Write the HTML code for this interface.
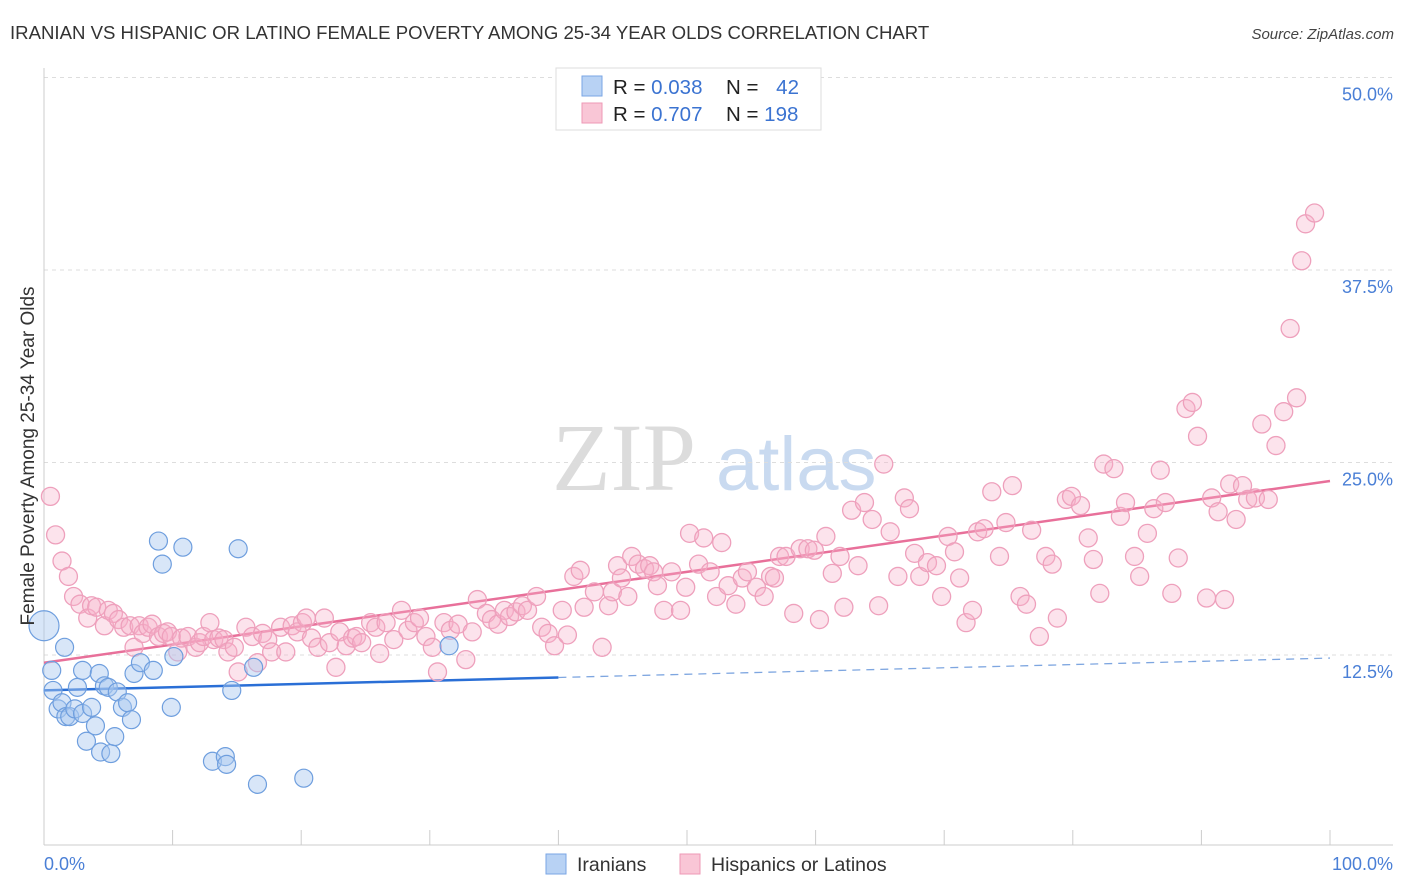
<!DOCTYPE html>
<html><head><meta charset="utf-8">
<style>
body{margin:0;background:#fff;font-family:"Liberation Sans",sans-serif;}
svg{display:block}
</style></head>
<body>
<svg id="chart" width="1406" height="892" viewBox="0 0 1406 892" xmlns="http://www.w3.org/2000/svg">
<text x="10" y="39" font-size="18.6" fill="#333">IRANIAN VS HISPANIC OR LATINO FEMALE POVERTY AMONG 25-34 YEAR OLDS CORRELATION CHART</text>
<text x="1394" y="39" font-size="15" fill="#444" text-anchor="end" font-style="italic">Source: ZipAtlas.com</text>
<g>
<text x="552" y="490" font-family="Liberation Serif,serif" font-size="96" fill="#dcdcdc">ZIP</text>
<text x="716" y="490" font-size="76" fill="#c9daf0">atlas</text>
</g>
<g id="grid"></g>
<g id="axes"></g>
<g id="trend"></g>
<g id="pts"></g>
<text transform="translate(34,456) rotate(-90)" font-size="19" fill="#333" text-anchor="middle">Female Poverty Among 25-34 Year Olds</text>
<text x="44" y="870" font-size="18" fill="#4a7fd6">0.0%</text>
<text x="1393" y="870" font-size="18" fill="#4a7fd6" text-anchor="end">100.0%</text>
<g>
<rect x="556" y="68" width="265" height="62" fill="#fff" stroke="#ddd"/>
<rect x="582" y="76" width="20" height="20" fill="#b8d2f4" stroke="#7aa6e4"/>
<rect x="582" y="103" width="20" height="20" fill="#f9c6d6" stroke="#ee98b6"/>
<text x="613" y="94" font-size="20.5" fill="#222">R = <tspan fill="#3b73d1">0.038</tspan></text>
<text x="726" y="94" font-size="20.5" fill="#222">N = <tspan fill="#3b73d1" dx="12">42</tspan></text>
<text x="613" y="121" font-size="20.5" fill="#222">R = <tspan fill="#3b73d1">0.707</tspan></text>
<text x="726" y="121" font-size="20.5" fill="#222">N = <tspan fill="#3b73d1">198</tspan></text>
</g>
<g>
<rect x="546" y="854" width="20" height="20" fill="#b8d2f4" stroke="#7aa6e4"/>
<text x="577" y="871" font-size="19.5" fill="#333">Iranians</text>
<rect x="680" y="854" width="20" height="20" fill="#f9c6d6" stroke="#ee98b6"/>
<text x="711" y="871" font-size="19.5" fill="#333">Hispanics or Latinos</text>
</g>
</svg>
<script>
const yTicks=[12.5,25,37.5,50];
const yTickLabels=["12.5%","25.0%","37.5%","50.0%"];
const xTicks=[0,10,20,30,40,50,60,70,80,90,100];
const iranX=[0,0.6,0.7,1.1,1.4,1.7,2.0,2.4,2.6,3.0,3.0,3.3,3.7,4.0,4.3,4.4,4.7,5.0,5.2,5.5,5.7,6.1,6.5,6.8,7.0,7.5,8.5,8.9,9.2,9.9,10.1,10.8,13.1,14.1,14.2,14.6,15.1,16.3,16.6,20.2,31.5,1.6];
const iranY=[14.4,11.5,10.2,9.0,9.4,8.5,8.5,9.0,10.4,8.7,11.5,6.9,9.1,7.9,11.3,6.2,10.5,10.4,6.1,7.2,10.1,9.1,9.4,8.3,11.3,12.0,11.5,19.9,18.4,9.1,12.4,19.5,5.6,5.9,5.4,10.2,19.4,11.7,4.1,4.5,13.1,13.0];
const hispX=[0.5,0.9,1.4,1.9,2.3,2.8,3.4,3.7,4.1,4.7,5.0,5.4,5.8,6.2,6.7,7.0,7.4,7.7,8.1,8.4,8.9,9.3,9.6,9.9,10.4,10.7,11.2,11.8,12.1,12.4,12.9,13.2,13.6,14.0,14.3,14.8,15.1,15.7,16.2,16.6,17.0,17.4,17.7,18.4,18.8,19.3,19.7,20.1,20.4,20.8,21.3,21.8,22.2,22.7,23.0,23.5,24.0,24.3,24.7,25.4,25.8,26.1,26.6,27.2,27.8,28.3,28.8,29.2,29.7,30.2,30.6,31.1,31.6,32.2,32.8,33.3,33.7,34.4,34.8,35.3,35.8,36.2,36.7,37.2,37.6,38.3,38.7,39.2,39.7,40.3,40.7,41.2,41.7,42.0,42.8,43.4,43.9,44.2,44.6,44.9,45.4,45.7,46.2,46.7,47.1,47.4,47.7,48.2,48.8,49.5,49.9,50.2,50.9,51.3,51.8,52.3,52.7,53.2,53.8,54.3,54.7,55.4,56.0,56.5,56.8,57.2,57.7,58.3,58.8,59.4,59.9,60.3,60.8,61.3,61.9,62.2,62.8,63.3,63.8,64.4,64.9,65.3,65.8,66.4,66.9,67.3,67.7,68.1,68.7,69.4,69.8,70.3,70.8,71.2,71.7,72.2,72.6,73.1,73.7,74.3,74.8,75.3,75.9,76.4,76.8,77.4,77.9,78.4,78.8,79.5,79.9,80.6,81.2,81.6,82.1,82.4,83.2,83.7,84.1,84.8,85.2,85.8,86.3,86.8,87.2,87.7,88.2,88.8,89.3,89.7,90.4,90.8,91.3,91.8,92.2,92.7,93.2,93.6,94.2,94.7,95.2,95.8,96.4,96.9,97.4,97.8,98.1,98.8];
const hispY=[22.8,20.3,18.6,17.6,16.3,15.8,14.9,15.7,15.6,14.4,15.4,15.2,14.8,14.3,14.4,13.0,14.4,13.9,14.3,14.5,13.7,13.9,14.0,13.7,12.7,13.6,13.7,13.0,13.3,13.7,14.6,13.5,13.6,13.5,12.7,13.0,11.4,14.3,13.7,12.0,13.9,13.5,12.7,14.3,12.7,14.4,14.0,14.6,14.9,13.6,13.0,14.9,13.3,11.7,14.0,13.1,13.6,13.7,13.3,14.6,14.3,12.6,14.6,13.5,15.4,14.1,14.6,14.9,13.7,13.0,11.4,14.6,14.1,14.5,12.2,14.0,16.1,15.2,14.8,14.5,15.4,15.0,15.3,15.7,15.4,16.3,14.3,13.9,13.1,15.4,13.8,17.6,18.0,15.6,16.6,13.0,15.7,16.6,18.3,17.5,16.3,18.9,18.4,18.1,18.3,17.9,17.0,15.4,17.9,15.4,16.9,20.4,18.4,20.1,17.9,16.3,19.8,17.0,15.8,17.5,17.9,16.9,16.3,17.6,17.5,18.9,18.9,15.2,19.4,19.4,19.3,14.8,20.2,17.8,18.9,15.6,21.9,18.3,22.4,21.3,15.7,24.9,20.5,17.6,22.7,22.0,19.1,17.6,18.5,18.3,16.3,20.2,19.2,17.5,14.6,15.4,20.5,20.7,23.1,18.9,21.1,23.5,16.3,15.8,20.6,13.7,18.9,18.4,14.9,22.6,22.8,22.2,20.1,18.7,16.5,24.9,24.6,21.5,22.4,18.9,17.6,20.4,22.0,24.5,22.4,16.5,18.8,28.5,28.9,26.7,16.2,22.7,21.8,16.1,23.6,21.3,23.5,22.6,22.7,27.5,22.6,26.1,28.3,33.7,29.2,38.1,40.5,41.2];
const iranTrend=[10.2,12.3];
const hispTrend=[12.0,23.8];

const NS="http://www.w3.org/2000/svg";
const X0=44,X1=1330,Y0=847.5,PXY=15.4;
const sx=v=>X0+(X1-X0)*v/100;
const sy=v=>Y0-v*PXY;
function mk(tag,attrs,parent){const e=document.createElementNS(NS,tag);for(const k in attrs)e.setAttribute(k,attrs[k]);parent.appendChild(e);return e;}
const grid=document.getElementById('grid'),axes=document.getElementById('axes'),trend=document.getElementById('trend'),pts=document.getElementById('pts');
yTicks.forEach((t,i)=>{
  const l=mk('line',{x1:44,x2:1393,y1:sy(t),y2:sy(t),stroke:'#ddd','stroke-dasharray':'4,4'},grid);
  
  
  const tx=mk('text',{x:1393,y:sy(t)+23,'font-size':18,fill:'#4a7fd6','text-anchor':'end'},grid);
  tx.textContent=yTickLabels[i];
  
  
});
const ax=mk('line',{x1:44,x2:1393,y1:845,y2:845,stroke:'#ccc'},axes);


const ay=mk('line',{x1:44,x2:44,y1:68,y2:845,stroke:'#ccc'},axes);


xTicks.forEach(t=>{
  const l=mk('line',{x1:sx(t),x2:sx(t),y1:830,y2:845,stroke:'#ccc'},axes);
  
  
});
const hl=mk('line',{x1:sx(0),y1:sy(hispTrend[0]),x2:sx(100),y2:sy(hispTrend[1]),stroke:'#e8709a','stroke-width':2.5},trend);


const im=iranTrend[0]+(iranTrend[1]-iranTrend[0])*0.4;
const il=mk('line',{x1:sx(0),y1:sy(iranTrend[0]),x2:sx(40),y2:sy(im),stroke:'#2a6fd6','stroke-width':2.5},trend);


const id=mk('line',{x1:sx(40),y1:sy(im),x2:sx(100),y2:sy(iranTrend[1]),stroke:'#7ea6e0','stroke-width':1.3,'stroke-dasharray':'8,6'},trend);


hispX.forEach((x,i)=>{
  const c=mk('circle',{cx:sx(x),cy:sy(hispY[i]),r:9,fill:'rgba(245,175,200,0.35)',stroke:'#eea0bc','stroke-width':1.3},pts);
  
  
});
iranX.forEach((x,i)=>{
  const c=mk('circle',{cx:sx(x),cy:sy(iranY[i]),r:i===0?15:9,fill:'rgba(168,200,240,0.45)',stroke:'#6e9ede','stroke-width':1.2},pts);
  
  
});
</script>
</body></html>
